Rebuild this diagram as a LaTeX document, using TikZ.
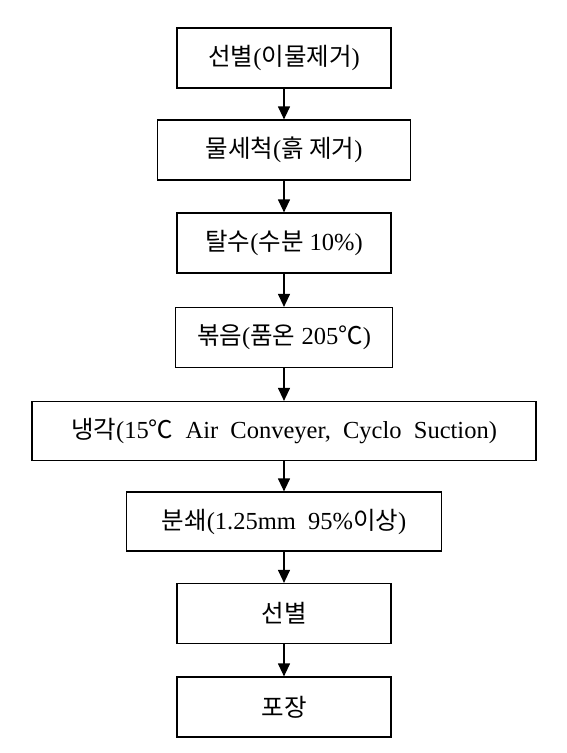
\documentclass[tikz,border=0pt]{standalone}
\usepackage{fontspec}
\setmainfont{Liberation Serif}
\newfontfamily\krfont{Noto Sans CJK KR}
\usetikzlibrary{arrows.meta}
\newcommand{\hg}[1]{{\krfont #1}}

\begin{document}
\begin{tikzpicture}[x=1pt,y=-1pt]
\useasboundingbox (0,0) rectangle (566,753);
\begin{scope}[every node/.style={rectangle,draw,line width=1.2pt,minimum height=60pt,inner sep=0pt,font=\fontsize{24.5}{29}\selectfont}]
    \node[minimum width=214pt] (A) at (284,58) {\hg{선별}(\hg{이물제거})};
    \node[minimum width=253pt] (B) at (284,150) {\hg{물세척}(\hg{흙 제거})};
    \node[minimum width=214pt] (C) at (284,243) {\hg{탈수}(\hg{수분} 10\%)};
    \node[minimum width=217pt] (D) at (284,337.5) {\hg{볶음}(\hg{품온} 205\hg{℃})};
    \node[minimum width=504pt,minimum height=59pt] (E) at (284,431) {\hg{냉각}(15\hg{℃}\ \ Air\ \ Conveyer,\ \ Cyclo\ \ Suction)};
    \node[minimum width=315pt,minimum height=59pt] (F) at (284,521.5) {\hg{분쇄}(1.25mm\ \ 95\%\hg{이상})};
    \node[minimum width=214pt] (G) at (284,613.5) {\hg{선별}};
    \node[minimum width=214pt] (H) at (284,707) {\hg{포장}};
\end{scope}

\begin{scope}[>={Triangle[width=12pt,length=13pt]},
              every edge/.style={draw,line width=1.2pt}]
    \path [->] (A) edge (B);
    \path [->] (B) edge (C);
    \path [->] (C) edge (D);
    \path [->] (D) edge (E);
    \path [->] (E) edge (F);
    \path [->] (F) edge (G);
    \path [->] (G) edge (H);
\end{scope}
\end{tikzpicture}
\end{document}
